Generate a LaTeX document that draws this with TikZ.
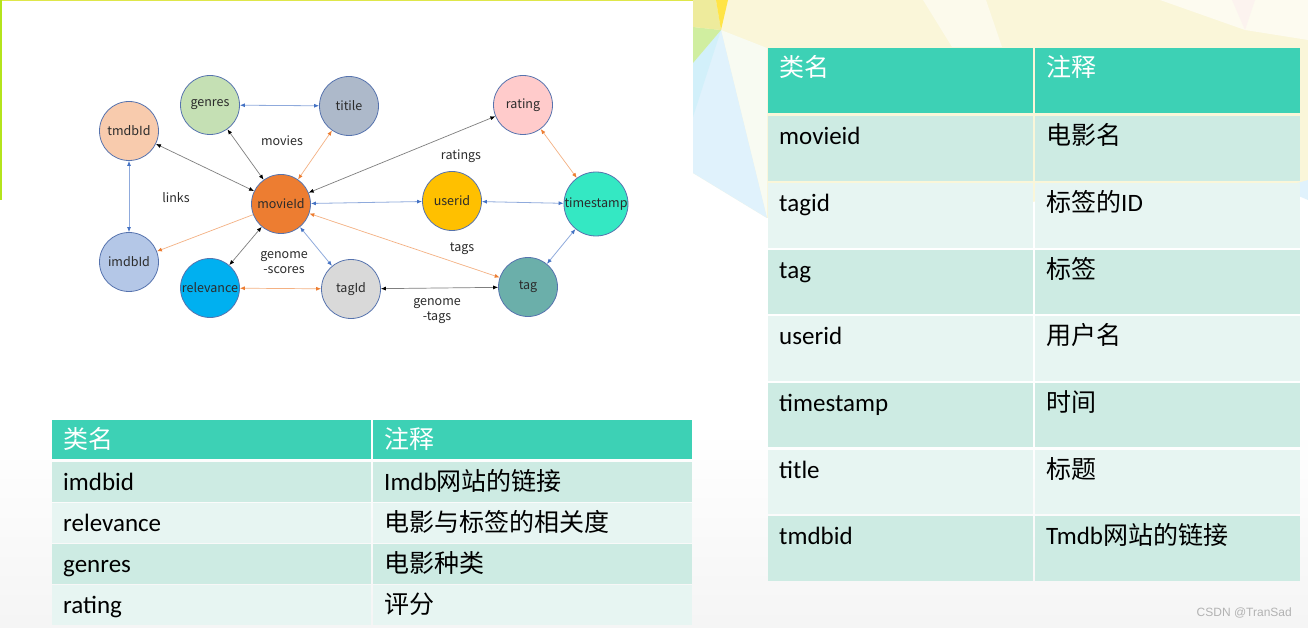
\documentclass[tikz,border=0pt]{standalone}
\usepackage{fontspec}
\setmainfont{Carlito}
\newfontfamily\cjk{Noto Sans CJK SC}
\newfontfamily\yahei{Noto Sans CJK SC}
\newfontfamily\wmfont{Liberation Sans}
\newcommand\zh[1]{{\cjk #1}}
\usepackage{tikz}
\usetikzlibrary{arrows.meta, positioning}

\definecolor{headteal}{HTML}{3DD1B5}
\definecolor{rowdark}{HTML}{CDEBE3}
\definecolor{rowlight}{HTML}{E7F5F2}
\definecolor{ballline}{HTML}{5673AE}
\definecolor{labeltext}{HTML}{2B2B2B}
\definecolor{lineblue}{HTML}{8FAADC}
\definecolor{tipblue}{HTML}{4472C4}
\definecolor{lineorange}{HTML}{F4B183}
\definecolor{tiporange}{HTML}{ED7D31}
\definecolor{linegray}{HTML}{7F7F7F}
\definecolor{polyyellow}{HTML}{FAF6D9}
\definecolor{polyblue}{HTML}{E0F2FC}
\definecolor{polycyan}{HTML}{D2F0FA}
\definecolor{polygreen}{HTML}{D0EEA0}
\definecolor{polyolive}{HTML}{EEEB9C}
\definecolor{polysun}{HTML}{FFE446}
\definecolor{polywhite}{HTML}{F8FBF2}
\definecolor{polypink}{HTML}{FCF3EF}
\definecolor{edgegreen}{HTML}{B4E41C}
\definecolor{edgetop}{HTML}{DFE74A}
\definecolor{cTmdb}{HTML}{F8CBAD}
\definecolor{cGenres}{HTML}{C5E0B4}
\definecolor{cTitle}{HTML}{ADB9CA}
\definecolor{cMovie}{HTML}{ED7D31}
\definecolor{cImdb}{HTML}{B4C7E7}
\definecolor{cRelev}{HTML}{00B0F0}
\definecolor{cTagid}{HTML}{D9D9D9}
\definecolor{cRating}{HTML}{FFCBCB}
\definecolor{cUser}{HTML}{FFC000}
\definecolor{cStamp}{HTML}{34E8C3}
\definecolor{cTag}{HTML}{6BAFAA}

\begin{document}
\begin{tikzpicture}[x=1pt, y=-1pt,
    ball/.style={circle, draw=ballline, line width=0.8pt, minimum size=59pt, inner sep=0pt,
        font=\yahei\fontsize{12.5}{14}\selectfont, text=labeltext},
    relname/.style={font=\yahei\fontsize{12.5}{15}\selectfont, text=labeltext, align=center, inner sep=0pt},
    linkgray/.style={draw=linegray, line width=0.7pt,
        {Latex[length=5pt,width=4pt,color=black]}-{Latex[length=5pt,width=4pt,color=black]}},
    linkblue/.style={draw=lineblue, line width=0.8pt,
        {Latex[length=5pt,width=4pt,color=tipblue]}-{Latex[length=5pt,width=4pt,color=tipblue]}},
    linkorange/.style={draw=lineorange, line width=0.7pt,
        {Latex[length=5pt,width=4pt,color=tiporange]}-{Latex[length=5pt,width=4pt,color=tiporange]}},
    linkorangeone/.style={draw=lineorange, line width=0.7pt,
        -{Latex[length=5pt,width=4pt,color=tiporange]}},
    cell/.style={anchor=base west, inner sep=0pt, font=\fontsize{25}{28}\selectfont},
    headcell/.style={cell, text=white},
    wm/.style={font=\wmfont\fontsize{12}{14}\selectfont, text=black!30, inner sep=0pt}]
    \useasboundingbox (0,0) rectangle (1308,628);

    % 1. Nền slide
    \fill[white] (0,0) rectangle (1308,628);
    \shade[top color=white, bottom color=black!4] (0,430) rectangle (1308,628);
    \fill[polyyellow] (693,0) -- (1308,0) -- (1308,185) -- (767,218) -- (693,173) -- cycle;
    \fill[polywhite] (721,30) -- (767,48) -- (767,218) -- cycle;
    \fill[polyblue] (693,40) -- (721,30) -- (767,218) -- (693,173) -- cycle;
    \fill[polycyan] (693,63) -- (721,30) -- (693,117) -- cycle;
    \fill[polygreen] (693,27) -- (721,30) -- (693,63) -- cycle;
    \fill[polyolive] (693,0) -- (716,0) -- (721,30) -- (693,27) -- cycle;
    \fill[polysun] (716,0) -- (728,0) -- (721,30) -- cycle;
    \fill[white!50!polyyellow] (923,0) -- (986,0) -- (1002,47) -- (952,47) -- cycle;
    \fill[white!60!polyyellow] (1160,0) -- (1308,0) -- (1308,40) -- (1245,30) -- cycle;
    \fill[polypink] (1232,0) -- (1255,0) -- (1245,30) -- cycle;
    \fill[polyblue] (1280,188) -- (1308,180) -- (1308,200) -- cycle;

    % 2. Khung ảnh chụp sơ đồ
    \fill[white] (0,0) rectangle (693,200);
    \fill[edgetop] (0,0) rectangle (693,1.5);
    \fill[edgegreen] (0,0) rectangle (2,200);

    % 3. Các nút của sơ đồ
    \node[ball, fill=cTmdb] (tmdb) at (129,131) {tmdbId};
    \node[ball, fill=cGenres] (genres) at (210,105) {genres};
    \node[ball, fill=cTitle] (titile) at (349,106) {titile};
    \node[ball, fill=cMovie] (movie) at (281,204) {movieId};
    \node[ball, fill=cImdb] (imdb) at (129,262) {imdbId};
    \node[ball, fill=cRelev] (relev) at (210,288) {relevance};
    \node[ball, fill=cTagid] (tagid) at (351,289) {tagId};
    \node[ball, fill=cRating] (rating) at (523,105) {rating};
    \node[ball, fill=cUser] (userid) at (452,201) {userid};
    \node[ball, fill=cStamp] (stamp) at (596,204) {timestamp};
    \node[ball, fill=cTag] (tag) at (528,287) {tag};

    % 4. Tên các bảng
    \node[relname] (lmovies) at (282,141) {movies};
    \node[relname] (llinks) at (176,198) {links};
    \node[relname] (lscores) at (284,263) {genome\\-scores};
    \node[relname] (lratings) at (461,156) {ratings};
    \node[relname] (ltags) at (462,249) {tags};
    \node[relname] (lgtags) at (437,311) {genome\\-tags};

    % 5. Các mũi tên
    \draw[linkblue] (genres) -- (titile);
    \draw[linkgray] (genres) -- (movie);
    \draw[linkorange] (titile) -- (movie);
    \draw[linkgray] (tmdb) -- (movie);
    \draw[linkblue] (tmdb) -- (imdb);
    \draw[linkorangeone] (movie) -- (imdb);
    \draw[linkgray] (rating) -- (movie);
    \draw[linkblue] (movie) -- (userid);
    \draw[linkblue] (userid) -- (stamp);
    \draw[linkorange] (rating) -- (stamp);
    \draw[linkblue] (stamp) -- (tag);
    \draw[linkorange] (movie) -- (tag);
    \draw[linkblue] (movie) -- (tagid);
    \draw[linkgray] (movie) -- (relev);
    \draw[linkorange] (relev) -- (tagid);
    \draw[linkgray] (tagid) -- (tag);

    % 6. Bảng bên trái
    \fill[headteal] (52,420) rectangle (371,459);
    \fill[headteal] (373,420) rectangle (692,459);
    \foreach \i/\c in {0/rowdark, 1/rowlight, 2/rowdark, 3/rowlight} {
        \fill[\c] (52,{462+41*\i}) rectangle (371,{502+41*\i});
        \fill[\c] (373,{462+41*\i}) rectangle (692,{502+41*\i});
    }
    \node[headcell] (lhk) at (63,448) {\zh{类名}};
    \node[headcell] (lhv) at (384,448) {\zh{注释}};
    \foreach \i/\k/\v in {0/imdbid/{Imdb\zh{网站的链接}}, 1/relevance/{\zh{电影与标签的相关度}},
                          2/genres/{\zh{电影种类}}, 3/rating/{\zh{评分}}} {
        \node[cell] (lk\i) at (63,{490+41*\i}) {\k};
        \node[cell] (lv\i) at (384,{490+41*\i}) {\v};
    }

    % 7. Bảng bên phải
    \fill[headteal] (768,48) rectangle (1033,113);
    \fill[headteal] (1035,48) rectangle (1300,113);
    \foreach \i/\c in {0/rowdark, 1/rowlight, 2/rowdark, 3/rowlight, 4/rowdark, 5/rowlight, 6/rowdark} {
        \fill[\c] (768,{116.5+66.6*\i}) rectangle (1033,{181+66.6*\i});
        \fill[\c] (1035,{116.5+66.6*\i}) rectangle (1300,{181+66.6*\i});
    }
    \node[headcell] (rhk) at (779,77) {\zh{类名}};
    \node[headcell] (rhv) at (1046,77) {\zh{注释}};
    \foreach \i/\k/\v in {0/movieid/{\zh{电影名}}, 1/tagid/{\zh{标签的}ID}, 2/tag/{\zh{标签}},
                          3/userid/{\zh{用户名}}, 4/timestamp/{\zh{时间}}, 5/title/{\zh{标题}},
                          6/tmdbid/{Tmdb\zh{网站的链接}}} {
        \node[cell] (rk\i) at (779,{145+66.6*\i}) {\k};
        \node[cell] (rv\i) at (1046,{145+66.6*\i}) {\v};
    }

    % 8. Dấu nước
    \node[wm, anchor=east] (mark) at (1292,613) {CSDN @TranSad};
\end{tikzpicture}
\end{document}
